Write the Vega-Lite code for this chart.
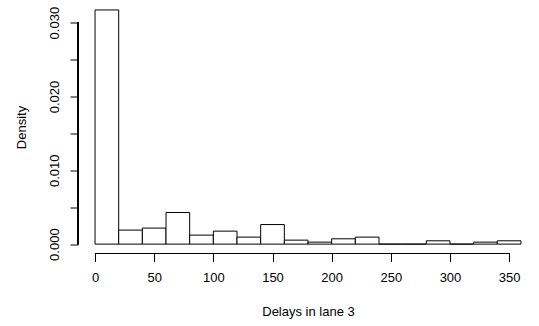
{
  "$schema": "https://vega.github.io/schema/vega-lite/v6.json",
  "width": 460,
  "height": 253,
  "autosize": {"type": "none"},
  "padding": {"left": 78, "top": 0.5, "right": 1, "bottom": 72.5},
  "background": "white",
  "config": {
    "view": {"stroke": null},
    "font": "Liberation Sans",
    "axis": {"labelFont": "Liberation Sans", "titleFont": "Liberation Sans", "labelFontSize": 13, "titleFontSize": 13, "titleFontWeight": "normal", "labelColor": "#000", "titleColor": "#000", "tickColor": "#000", "grid": false, "domain": false}
  },
  "data": {
    "values": [
      {"start": 0, "end": 20, "density": 0.03172},
      {"start": 20, "end": 40, "density": 0.0019},
      {"start": 40, "end": 60, "density": 0.00217},
      {"start": 60, "end": 80, "density": 0.00428},
      {"start": 80, "end": 100, "density": 0.00122},
      {"start": 100, "end": 120, "density": 0.00176},
      {"start": 120, "end": 140, "density": 0.00095},
      {"start": 140, "end": 160, "density": 0.00265},
      {"start": 160, "end": 180, "density": 0.00054},
      {"start": 180, "end": 200, "density": 0.00027},
      {"start": 200, "end": 220, "density": 0.00072},
      {"start": 220, "end": 240, "density": 0.00095},
      {"start": 240, "end": 260, "density": 0},
      {"start": 260, "end": 280, "density": 0},
      {"start": 280, "end": 300, "density": 0.00045},
      {"start": 300, "end": 320, "density": 0},
      {"start": 320, "end": 340, "density": 0.00027},
      {"start": 340, "end": 360, "density": 0.00045}
    ]
  },
  "layer": [
    {
      "mark": {"type": "rect", "fill": "white", "stroke": "black", "strokeWidth": 1},
      "encoding": {
        "x": {"field": "start", "type": "quantitative", "scale": {"domain": [-14.4, 374.4], "nice": false, "zero": false},
          "axis": {"values": [0, 50, 100, 150, 200, 250, 300, 350], "tickSize": 8, "labelPadding": 10, "title": "Delays in lane 3", "titlePadding": 21, "labelFlush": false}},
        "x2": {"field": "end"},
        "y": {"field": "density", "type": "quantitative", "scale": {"domain": [-0.00127, 0.033], "nice": false, "zero": false},
          "axis": {"values": [0, 0.005, 0.01, 0.015, 0.02, 0.025, 0.03], "format": ".3f", "labelExpr": "indexof(['0.000','0.010','0.020','0.030'], datum.label) >= 0 ? datum.label : ''", "labelAngle": -90, "labelAlign": "center", "labelBaseline": "alphabetic", "tickSize": 8, "labelPadding": 12, "title": "Density", "titlePadding": 20, "labelFlush": false}},
        "y2": {"datum": 0}
      }
    },
    {
      "mark": {"type": "rule", "color": "black", "strokeWidth": 1, "clip": false},
      "encoding": {"x": {"datum": 0}, "x2": {"datum": 350}, "y": {"datum": -0.00127}}
    },
    {
      "mark": {"type": "rule", "color": "black", "strokeWidth": 1, "clip": false},
      "encoding": {"y": {"datum": 0}, "y2": {"datum": 0.03}, "x": {"datum": -14.4}}
    }
  ]
}
